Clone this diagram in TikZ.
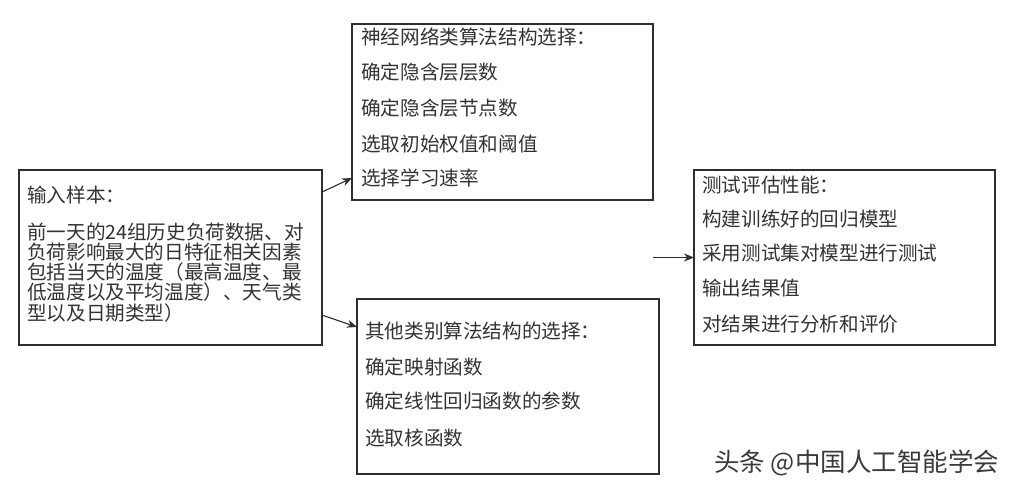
\documentclass[tikz,border=0pt]{standalone}
\usepackage{fontspec}
\setmainfont{Noto Sans CJK SC}
\usetikzlibrary{arrows.meta,calc}
\definecolor{boxc}{HTML}{2E2E2E}
\definecolor{textc}{HTML}{333333}
\definecolor{wmc}{HTML}{3A3A3A}
\begin{document}
\begin{tikzpicture}[x=1pt,y=-1pt,
  box/.style={draw=boxc, line width=1.1pt, inner sep=0pt, outer sep=0pt, anchor=north west},
  txt/.style={anchor=west, inner sep=0pt, text height=0.8em, text depth=0.2em, text=textc, font=\fontsize{19.6}{21}\selectfont},
  conn/.style={draw=boxc, line width=1.1pt, -{Stealth[length=10pt,width=8pt]}}]
\useasboundingbox (0,0) rectangle (1020,486);
\fill[white] (0,0) rectangle (1020,486);
% boxes
\node[box, minimum width=303, minimum height=175] (inp) at (19,170) {};
\node[box, minimum width=301, minimum height=176] (nn) at (352,24) {};
\node[box, minimum width=302, minimum height=175] (oth) at (357,299) {};
\node[box, minimum width=301, minimum height=175] (tst) at (694,170) {};
% input box text
\node[txt] (i0) at (27,200) {输入样本：};
\node[txt] (i1) at (27,237) {前一天的24组历史负荷数据、对};
\node[txt] (i2) at (27,257) {负荷影响最大的日特征相关因素};
\node[txt] (i3) at (27,277) {包括当天的温度（最高温度、最};
\node[txt] (i4) at (27,297) {低温度以及平均温度）、天气类};
\node[txt] (i5) at (27,317) {型以及日期类型）};
% neural box text
\node[txt] (n0) at (361,42) {神经网络类算法结构选择：};
\node[txt] (n1) at (361,77) {确定隐含层层数};
\node[txt] (n2) at (361,113) {确定隐含层节点数};
\node[txt] (n3) at (361,149) {选取初始权值和阈值};
\node[txt] (n4) at (361,183) {选择学习速率};
% other box text
\node[txt] (o0) at (365,335) {其他类别算法结构的选择：};
\node[txt] (o1) at (365,371) {确定映射函数};
\node[txt] (o2) at (365,405) {确定线性回归函数的参数};
\node[txt] (o3) at (365,442) {选取核函数};
% test box text
\node[txt] (t0) at (702,190) {测试评估性能：};
\node[txt] (t1) at (702,224) {构建训练好的回归模型};
\node[txt] (t2) at (702,258) {采用测试集对模型进行测试};
\node[txt] (t3) at (702,293) {输出结果值};
\node[txt] (t4) at (702,328) {对结果进行分析和评价};
% connectors
\coordinate (a1s) at ($(inp.north east)!0.126!(inp.south east)$);
\coordinate (a1e) at ($(nn.north west)!0.875!(nn.south west)$);
\coordinate (a2s) at ($(inp.north east)!0.829!(inp.south east)$);
\coordinate (a2e) at ($(oth.north west)!0.16!(oth.south west)$);
\coordinate (a3s) at (653,257.5);
\draw[conn] (a1s) -- (a1e);
\draw[conn] (a2s) -- (a2e);
\draw[conn] (a3s) -- (tst.west);
% watermark
\node[anchor=west, inner sep=0pt, text=wmc, font=\fontsize{25.5}{27}\selectfont] (wm) at (714,463) {头条 @中国人工智能学会};
\end{tikzpicture}
\end{document}
